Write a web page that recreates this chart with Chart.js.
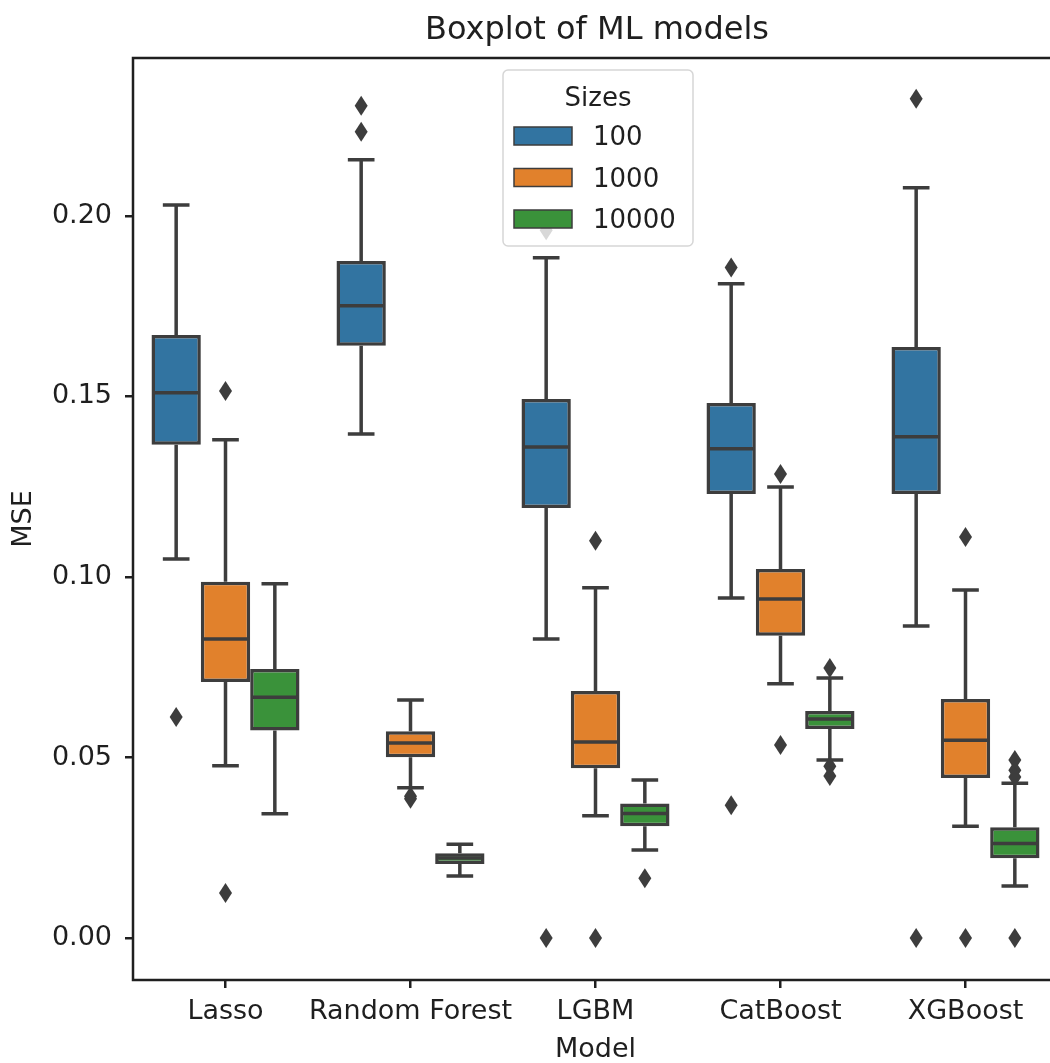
<!DOCTYPE html>
<html><head><meta charset="utf-8">
<script src="https://cdn.jsdelivr.net/npm/chart.js@4.4.1/dist/chart.umd.min.js"></script>
<style>
html,body{margin:0;padding:0;background:#fff;overflow:hidden;width:1050px;height:1063px;}
canvas{display:block;}
</style></head><body>
<canvas id="c" width="1062" height="1066"></canvas>
<script>
// ---- data ----
const categories = ['Lasso', 'Random Forest', 'LGBM', 'CatBoost', 'XGBoost'];
const sizes = ['100', '1000', '10000'];
const yTicks = [0.00, 0.05, 0.10, 0.15, 0.20];

const low100  = [0.1050, 0.1396, 0.0828, 0.0942, 0.0864];
const q1_100  = [0.1366, 0.1640, 0.1191, 0.1230, 0.1230];
const med100  = [0.1510, 0.1751, 0.1360, 0.1355, 0.1388];
const q3_100  = [0.1670, 0.1875, 0.1493, 0.1482, 0.1637];
const high100 = [0.2030, 0.2155, 0.1884, 0.1812, 0.2078];
const out100  = [[0.0612], [0.2233, 0.2305], [0.1960, 0.0], [0.1857, 0.0368], [0.2324, 0.0]];

const low1000  = [0.0477, 0.0416, 0.0339, 0.0704, 0.0310];
const q1_1000  = [0.0709, 0.0501, 0.0470, 0.0837, 0.0443];
const med1000  = [0.0828, 0.0540, 0.0543, 0.0939, 0.0548];
const q3_1000  = [0.0987, 0.0573, 0.0684, 0.1022, 0.0662];
const high1000 = [0.1380, 0.0659, 0.0970, 0.1249, 0.0964];
const out1000  = [[0.1515, 0.0125], [0.0393, 0.0386], [0.1100, 0.0], [0.1285, 0.0535], [0.1111, 0.0]];

const low10000  = [0.0344, 0.0172, 0.0244, 0.0493, 0.0144];
const q1_10000  = [0.0575, 0.0205, 0.0310, 0.0579, 0.0221];
const med10000  = [0.0667, 0.0222, 0.0345, 0.0607, 0.0262];
const q3_10000  = [0.0745, 0.0235, 0.0373, 0.0629, 0.0307];
const high10000 = [0.0981, 0.0260, 0.0438, 0.0720, 0.0429];
const out10000  = [[], [], [0.0166], [0.0748, 0.0476, 0.0449], [0.0493, 0.0465, 0.0446, 0.0]];

// ---- styling ----
const FONT = "'DejaVu Sans', sans-serif";
const TXT = '#1f1f1f';
const EDGE = '#3d3d3d';
const fills = ['#3274a1', '#e1812c', '#3a923a'];

const stats = [
  {low: low100, q1: q1_100, med: med100, q3: q3_100, high: high100, out: out100},
  {low: low1000, q1: q1_1000, med: med1000, q3: q3_1000, high: high1000, out: out1000},
  {low: low10000, q1: q1_10000, med: med10000, q3: q3_10000, high: high10000, out: out10000}
];

const datasets = sizes.map((s, d) => ({
  label: s,
  data: categories.map((c, i) => [stats[d].q1[i], stats[d].q3[i]]),
  backgroundColor: fills[d],
  borderColor: EDGE,
  borderWidth: 3.5,
  borderSkipped: false,
  categoryPercentage: 0.8,
  barPercentage: 1.0
}));

function diamond(ctx, x, y) {
  ctx.beginPath();
  ctx.moveTo(x, y - 10);
  ctx.lineTo(x + 6.5, y);
  ctx.lineTo(x, y + 10);
  ctx.lineTo(x - 6.5, y);
  ctx.closePath();
  ctx.fill();
}

const boxPlugin = {
  id: 'boxparts',
  beforeDatasetsDraw(chart) {
    const ctx = chart.ctx, y = chart.scales.y;
    ctx.save();
    ctx.strokeStyle = EDGE;
    ctx.lineWidth = 3.5;
    ctx.lineCap = 'butt';
    stats.forEach((st, d) => {
      chart.getDatasetMeta(d).data.forEach((el, i) => {
        const x = el.x, cw = el.width / 4 + 1;
        ctx.beginPath();
        ctx.moveTo(x, y.getPixelForValue(st.q3[i]));
        ctx.lineTo(x, y.getPixelForValue(st.high[i]));
        ctx.moveTo(x, y.getPixelForValue(st.q1[i]));
        ctx.lineTo(x, y.getPixelForValue(st.low[i]));
        ctx.moveTo(x - cw, y.getPixelForValue(st.high[i]));
        ctx.lineTo(x + cw, y.getPixelForValue(st.high[i]));
        ctx.moveTo(x - cw, y.getPixelForValue(st.low[i]));
        ctx.lineTo(x + cw, y.getPixelForValue(st.low[i]));
        ctx.stroke();
      });
    });
    ctx.restore();
  },
  afterDatasetsDraw(chart) {
    const ctx = chart.ctx, y = chart.scales.y, a = chart.chartArea;
    ctx.save();
    ctx.strokeStyle = EDGE;
    ctx.fillStyle = EDGE;
    ctx.lineWidth = 3.5;
    stats.forEach((st, d) => {
      chart.getDatasetMeta(d).data.forEach((el, i) => {
        const x = el.x, hw = el.width / 2 - 1.5;
        const py = y.getPixelForValue(st.med[i]);
        ctx.beginPath();
        ctx.moveTo(x - hw, py);
        ctx.lineTo(x + hw, py);
        ctx.stroke();
        st.out[i].forEach(v => diamond(ctx, x, y.getPixelForValue(v)));
      });
    });
    // frame
    ctx.strokeStyle = TXT;
    ctx.lineWidth = 2.5;
    ctx.strokeRect(a.left, a.top, a.right - a.left, a.bottom - a.top);
    // title
    ctx.fillStyle = TXT;
    ctx.font = '32px ' + FONT;
    ctx.textAlign = 'center';
    ctx.textBaseline = 'alphabetic';
    ctx.fillText('Boxplot of ML models', 597, 39);
    // legend
    const lx = 503, ly = 70, lw = 190, lh = 176, r = 5;
    ctx.beginPath();
    ctx.moveTo(lx + r, ly);
    ctx.lineTo(lx + lw - r, ly);
    ctx.arcTo(lx + lw, ly, lx + lw, ly + r, r);
    ctx.lineTo(lx + lw, ly + lh - r);
    ctx.arcTo(lx + lw, ly + lh, lx + lw - r, ly + lh, r);
    ctx.lineTo(lx + r, ly + lh);
    ctx.arcTo(lx, ly + lh, lx, ly + lh - r, r);
    ctx.lineTo(lx, ly + r);
    ctx.arcTo(lx, ly, lx + r, ly, r);
    ctx.closePath();
    ctx.fillStyle = 'rgba(255,255,255,0.8)';
    ctx.fill();
    ctx.strokeStyle = '#d6d6d6';
    ctx.lineWidth = 1.5;
    ctx.stroke();
    ctx.fillStyle = TXT;
    ctx.font = '26px ' + FONT;
    ctx.textAlign = 'center';
    ctx.fillText('Sizes', 598, 106);
    ctx.textAlign = 'left';
    chart.data.datasets.forEach((ds, d) => {
      const py = 127 + d * 41.5;
      ctx.fillStyle = ds.backgroundColor;
      ctx.fillRect(514, py, 58, 18);
      ctx.strokeStyle = EDGE;
      ctx.lineWidth = 1.5;
      ctx.strokeRect(514, py, 58, 18);
      ctx.fillStyle = TXT;
      ctx.fillText(ds.label, 593, py + 18);
    });
    ctx.restore();
  }
};

const tickFont = {family: FONT, size: 27};
const gridCfg = {display: true, drawOnChartArea: false, drawTicks: true, tickLength: 8, color: TXT, lineWidth: 2.5, offset: false};

new Chart(document.getElementById('c'), {
  type: 'bar',
  data: {labels: categories, datasets: datasets},
  options: {
    responsive: false,
    animation: false,
    devicePixelRatio: 1,
    layout: {padding: {top: 58, right: 4, left: 0, bottom: 0}},
    plugins: {legend: {display: false}, tooltip: {enabled: false}, title: {display: false}},
    scales: {
      x: {
        type: 'category',
        offset: true,
        grid: gridCfg,
        border: {display: false},
        ticks: {font: tickFont, color: TXT, padding: 8, maxRotation: 0, autoSkip: false},
        title: {display: true, text: 'Model', font: tickFont, color: TXT, padding: {top: 0, bottom: 0}},
        afterFit(s) { s.height = 86; }
      },
      y: {
        type: 'linear',
        min: -0.0116,
        max: 0.2437,
        grid: gridCfg,
        border: {display: false},
        afterBuildTicks(s) { s.ticks = yTicks.map(v => ({value: v})); },
        ticks: {font: tickFont, color: TXT, padding: 13, callback: v => Number(v).toFixed(2)},
        title: {display: true, text: 'MSE', font: tickFont, color: TXT, padding: {top: 8, bottom: 0}},
        afterFit(s) { s.width = 133; }
      }
    }
  },
  plugins: [boxPlugin]
});
</script>
</body></html>
